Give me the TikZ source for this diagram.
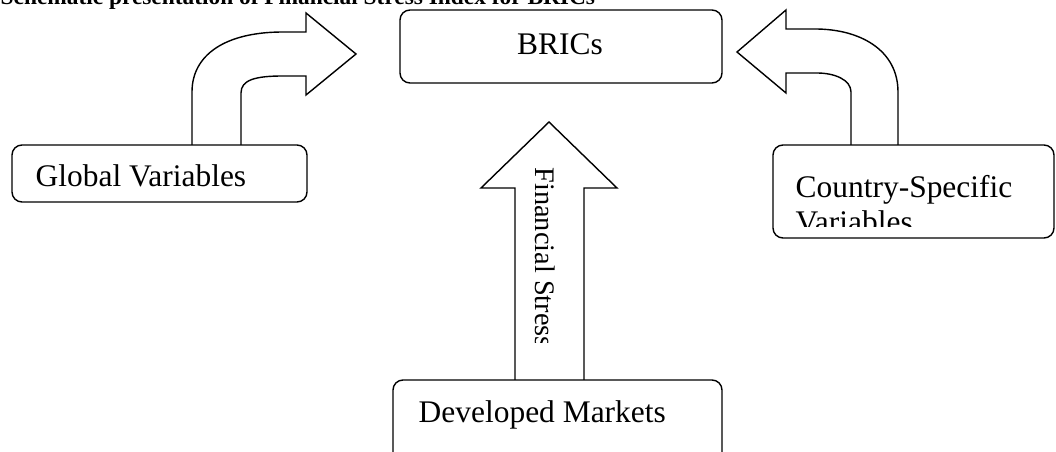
\documentclass[tikz,border=0pt]{standalone}
\usepackage{fontspec}
\setmainfont{Liberation Serif}
\begin{document}
\begin{tikzpicture}[x=0.02cm,y=-0.02cm,line width=0.8pt,
	box/.style={draw,rounded corners=0.2cm},
	lbl/.style={inner sep=0pt,anchor=base west,font=\fontsize{17.9}{19.9}\selectfont}]
	\useasboundingbox (0,0) rectangle (1056,452);
	% title
	\node[inner sep=0pt,anchor=base west,font=\fontsize{13.3}{15}\selectfont\bfseries] (title) at (0,5) {Schematic presentation of Financial Stress Index for BRICs};
	% boxes
	\draw[box] (400,10) rectangle (722,83);
	\node[lbl,anchor=base] (brics) at (560,55) {BRICs};
	\draw[box] (12,145) rectangle (307,202);
	\node[lbl] (global) at (35,187) {Global Variables};
	\draw[box] (773,145) rectangle (1054,238);
	\begin{scope}
		\clip (773,145) rectangle (1054,227);
		\node[lbl] (country) at (795,198) {Country-Specific};
		\node[lbl] (countryb) at (795,233) {Variables};
	\end{scope}
	\draw[box] (393,380) rectangle (722,480);
	\node[lbl] (developed) at (418,423) {Developed Markets};
	% left bent arrow
	\draw (192,145) -- (192,92) .. controls (192,55) and (225,32) .. (283,32) -- (306,32) -- (306,13)
		-- (356,54) -- (306,95) -- (306,76) -- (283,76) .. controls (255,76) and (241,80) .. (241,93) -- (241,145);
	% right bent arrow
	\draw (898,145) -- (898,92) .. controls (898,50) and (860,29) .. (815,29) -- (786,29) -- (786,10)
		-- (737,52) -- (786,93) -- (786,73) -- (817,73) .. controls (835,73) and (851,80) .. (851,92) -- (851,145);
	% center
	\draw (515,380) -- (515,188) -- (481,188) -- (549,122) -- (617,188) -- (584,188) -- (584,380);
	\begin{scope}
		\clip (515,150) rectangle (584,343);
		\node[lbl,rotate=-90,font=\fontsize{16.1}{18}\selectfont] (stress) at (535,167) {Financial Stress};
	\end{scope}
\end{tikzpicture}
\end{document}
